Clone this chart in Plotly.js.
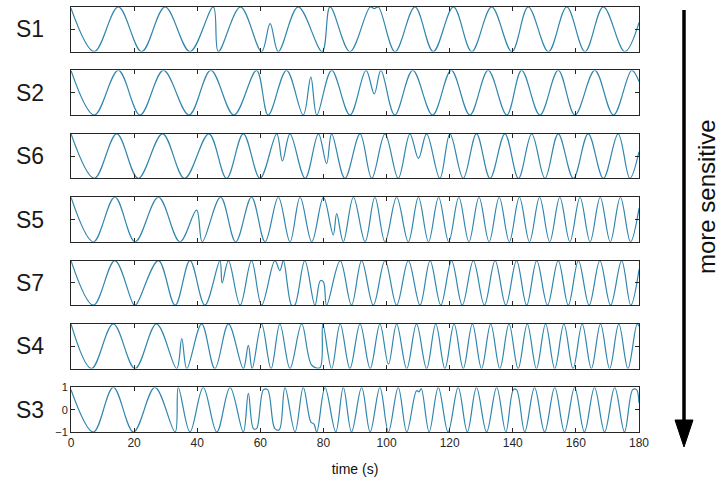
<!DOCTYPE html>
<html>
<head>
<meta charset="utf-8">
<script src="https://cdn.plot.ly/plotly-3.0.1.min.js"></script>
<style>html,body{margin:0;padding:0;background:#fff;}#chart{width:722px;height:483px;}</style>
</head>
<body>
<div id="chart"></div>
<script>
// Subject labels, top to bottom
const subjects = ["S1", "S2", "S6", "S5", "S7", "S4", "S3"];
const xTicks = [0, 20, 40, 60, 80, 100, 120, 140, 160, 180];
const yTicks = [-1, 0, 1];

// Turning points (time in s, normalised value)
const s1_t = [0, 7.4, 15.0, 22.4, 29.8, 37.7, 45.1, 46.7, 53.7, 60.4, 63.1, 65.7, 72.0, 79.6, 82.1, 88.4, 94.8, 96.1, 97.4, 102.7, 109.0, 114.8, 121.2, 127.0, 133.3, 139.7, 144.9, 151.3, 157.1, 162.9, 168.7, 175.5, 180];
const s1_v = [0.95, -1, 1, -1, 1, -1, 1, -1, 1, -1, 0.25, -1, 1, -1, 1, -1, 1, 0.93, 1, -1, 1, -1, 1, -1, 1, -1, 1, -1, 1, -1, 1, -1, 0.3];

const s2_t = [0, 7.4, 15.0, 21.9, 29.3, 37.4, 44.3, 51.6, 58.8, 62.5, 68.3, 73.6, 76.0, 77.9, 82.6, 88.4, 93.5, 96.1, 98.2, 102.6, 108.3, 114.6, 120.5, 126.4, 132.2, 138.1, 142.8, 148.6, 154.4, 159.7, 166.0, 171.9, 177.7, 180];
const s2_v = [1, -1, 1, -1, 1, -1, 1, -1, 1, -1, 1, -1, 0.7, -1, 1, -1, 1, -0.05, 1, -1, 1, -1, 1, -1, 1, -1, 1, -1, 1, -1, 1, -1, 1, 0.5];

const s6_t = [0, 7.4, 14.5, 21.3, 29.0, 36.0, 43.7, 49.3, 54.6, 59.9, 65.2, 67.0, 69.4, 74.2, 78.4, 81.0, 82.6, 86.8, 91.6, 95.3, 99.5, 103.7, 107.4, 110.1, 112.7, 116.9, 120.1, 124.3, 128.5, 132.8, 137.5, 141.8, 146.0, 150.2, 154.4, 159.2, 163.9, 168.7, 173.4, 177.1, 180];
const s6_v = [1, -1, 1, -1, 1, -1, 1, -1, 1, -1, 1, -0.22, 1, -1, 1, -0.34, 1, -1, 1, -1, 1, -1, 1, -0.1, 1, -1, 1, -1, 1, -1, 1, -1, 1, -1, 1, -1, 1, -1, 1, -1, 0.2];

const s5_t = [0, 7.1, 13.9, 20.3, 27.7, 34.5, 39.8, 41.6, 47.4, 52.2, 57.2, 61.5, 65.7, 69.4, 72.6, 76.3, 80.0, 83.1, 84.2, 86.3, 89.5, 93.2, 96.3, 99.5, 103.2, 106.9, 110.1, 113.3, 116.5, 119.7, 122.9, 126.1, 129.3, 132.5, 135.7, 138.9, 142.1, 145.3, 148.5, 151.7, 154.9, 158.1, 161.3, 164.5, 167.7, 170.9, 174.1, 177.3, 180];
const s5_v = [1, -1, 1, -1, 1, -1, 0.42, -1, 1, -1, 1, -1, 1, -1, 1, -1, 1, -0.69, 0.26, -1, 1, -1, 1, -1, 1, -1, 1, -1, 1, -1, 1, -1, 1, -1, 1, -1, 1, -1, 1, -1, 1, -1, 1, -1, 1, -1, 1, -1, 0.5];

const s7_t = [0, 7.1, 13.9, 20.0, 20.8, 27.7, 33.0, 37.7, 42.4, 47.2, 47.9, 49.9, 53.6, 57.2, 60.4, 64.6, 66.2, 67.3, 69.9, 70.9, 74.1, 77.3, 79.0, 80.0, 81.0, 85.3, 88.9, 92.1, 95.8, 99.5, 103.2, 106.9, 110.6, 113.8, 117.2, 120.6, 124.0, 127.5, 131.0, 134.4, 137.8, 141.2, 144.4, 147.6, 151.0, 154.4, 157.6, 160.8, 164.2, 167.6, 171.0, 174.5, 177.4, 180];
const s7_v = [1, -1, 1, -1, -0.95, 1, -1, 1, -1, 1, 0.0, 1, -1, 1, -1, 1, 0.55, 1, -1, -1, 1, -1, 0.1, 0.05, -1, 1, -1, 1, -1, 1, -1, 1, -1, 1, -1, 1, -1, 1, -1, 1, -1, 1, -1, 1, -1, 1, -1, 1, -1, 1, -1, 1, -1, 0.6];

const s4_t = [0, 6.5, 13.4, 20.3, 27.1, 33.5, 35.1, 36.7, 41.4, 45.6, 49.9, 54.6, 56.2, 57.4, 60.4, 63.4, 66.2, 69.4, 73.1, 76.3, 78.9, 79.8, 82.6, 85.3, 88.4, 91.6, 94.8, 97.9, 100.6, 103.2, 106.4, 109.5, 112.7, 115.6, 118.5, 121.4, 124.3, 127.2, 130.1, 133.0, 135.9, 138.8, 141.7, 144.6, 147.5, 150.4, 153.3, 156.2, 159.1, 162.0, 164.9, 167.8, 170.7, 173.6, 176.5, 179.4, 180];
const s4_v = [1, -1, 1, -1, 1, -1, 0.35, -1, 1, -1, 1, -1, 0.04, -1, 1, -1, 1, -1, 1, -0.85, -0.96, 1, -1, 1, -1, 1, -1, 1, -0.8, 1, -1, 1, -1, 1, -1, 1, -1, 1, -1, 1, -1, 1, -1, 1, -1, 1, -1, 1, -1, 1, -1, 1, -1, 1, -1, 1, 0.9];

const s3_t = [0, 7.1, 13.4, 19.8, 26.6, 33.0, 34.0, 37.7, 41.9, 46.2, 50.4, 54.6, 56.2, 57.8, 58.8, 61.0, 62.3, 64.6, 66.0, 67.8, 71.0, 73.6, 76.0, 77.0, 77.9, 80.5, 83.9, 86.3, 88.9, 92.1, 94.8, 97.9, 100.6, 103.7, 106.4, 109.5, 110.3, 111.0, 113.5, 116.4, 119.5, 122.7, 125.6, 128.5, 131.7, 134.9, 137.8, 140.2, 141.2, 143.8, 146.9, 150.1, 153.3, 156.4, 159.6, 162.7, 165.9, 169.1, 172.3, 175.4, 178.0, 179.2, 180];
const s3_v = [0.9, -1, 1, -1, 1, -1, 1, -1, 1, -1, 1, -1, 0.73, -0.85, -0.85, 0.9, 0.9, -0.85, -0.9, 1, -1, 1, -0.55, -0.65, -1, 1, -1, 1, -1, 1, -1, 1, -1, 1, -1, 0.85, 0.8, 0.95, -1, 1, -1, 1, -1, 1, -1, 1, -1, 0.9, 0.9, -1, 1, -1, 1, -1, 1, -1, 1, -1, 1, -1, 0.9, 0.9, 0.3];

const seriesT = [s1_t, s2_t, s6_t, s5_t, s7_t, s4_t, s3_t];
const seriesV = [s1_v, s2_v, s6_v, s5_v, s7_v, s4_v, s3_v];

const lineColor = "rgb(48,134,174)";
const axisColor = "#262626";
const fontFam = "Arial, 'Liberation Sans', sans-serif";

const H = 425; // plot height in px (from margins)
const step = 63.4, ph = 44.6;

const data = [];
const layout = {
  width: 722, height: 483,
  margin: {l: 71, r: 83, t: 7, b: 51},
  paper_bgcolor: "#fff", plot_bgcolor: "#fff",
  showlegend: false,
  font: {family: fontFam, color: axisColor},
  annotations: [],
  shapes: []
};

for (let i = 0; i < subjects.length; i++) {
  const n = i === 0 ? "" : String(i + 1);
  const top = i * step;
  const d0 = 1 - (top + ph) / H, d1 = 1 - top / H;
  const last = i === subjects.length - 1;
  data.push({
    type: "scatter", mode: "lines",
    x: seriesT[i], y: seriesV[i],
    xaxis: "x" + n, yaxis: "y" + n,
    line: {color: lineColor, width: 1.2, shape: "spline", smoothing: 1},
    hoverinfo: "skip"
  });
  layout["xaxis" + n] = {
    domain: [0, 1], anchor: "y" + n, range: [0, 180],
    tickvals: xTicks, ticks: "inside", ticklen: 4, tickcolor: axisColor, tickwidth: 1,
    showticklabels: last, tickfont: {size: 12, color: axisColor},
    showline: true, linecolor: axisColor, linewidth: 1, mirror: "ticks",
    showgrid: false, zeroline: false, fixedrange: true,
    title: last ? {text: "time (s)", font: {size: 14, color: "#111"}, standoff: 14} : {text: ""}
  };
  layout["yaxis" + n] = {
    domain: [d0, d1], anchor: "x" + n, range: [-1, 1],
    tickvals: yTicks, ticks: "inside", ticklen: 4, tickcolor: axisColor, tickwidth: 1,
    showticklabels: last, tickfont: {size: 11, color: axisColor},
    showline: true, linecolor: axisColor, linewidth: 1, mirror: "ticks",
    showgrid: false, zeroline: false, fixedrange: true
  };
  layout.annotations.push({
    xref: "paper", yref: "paper", x: -0.072, y: (d0 + d1) / 2,
    text: subjects[i], showarrow: false, xanchor: "center", yanchor: "middle",
    font: {size: 23, color: "#1a1a1a", family: fontFam}
  });
}

// "more sensitive" label with downward arrow at right
const px = v => (v - 71) / 568;
const py = v => 1 - (v - 7) / H;
layout.annotations.push({
  xref: "paper", yref: "paper", x: px(707), y: py(197),
  text: "more sensitive", textangle: -90, showarrow: false,
  xanchor: "center", yanchor: "middle",
  font: {size: 24, color: "#111", family: fontFam}
});
layout.shapes.push({
  type: "line", xref: "paper", yref: "paper",
  x0: px(684), x1: px(684), y0: py(10), y1: py(425),
  line: {color: "#000", width: 3.5}
});
layout.shapes.push({
  type: "path", xref: "paper", yref: "paper",
  path: `M ${px(675)},${py(420)} L ${px(693)},${py(420)} L ${px(684)},${py(447)} Z`,
  fillcolor: "#000", line: {color: "#000", width: 1}
});

Plotly.newPlot("chart", data, layout, {staticPlot: true, displayModeBar: false});
</script>
</body>
</html>
